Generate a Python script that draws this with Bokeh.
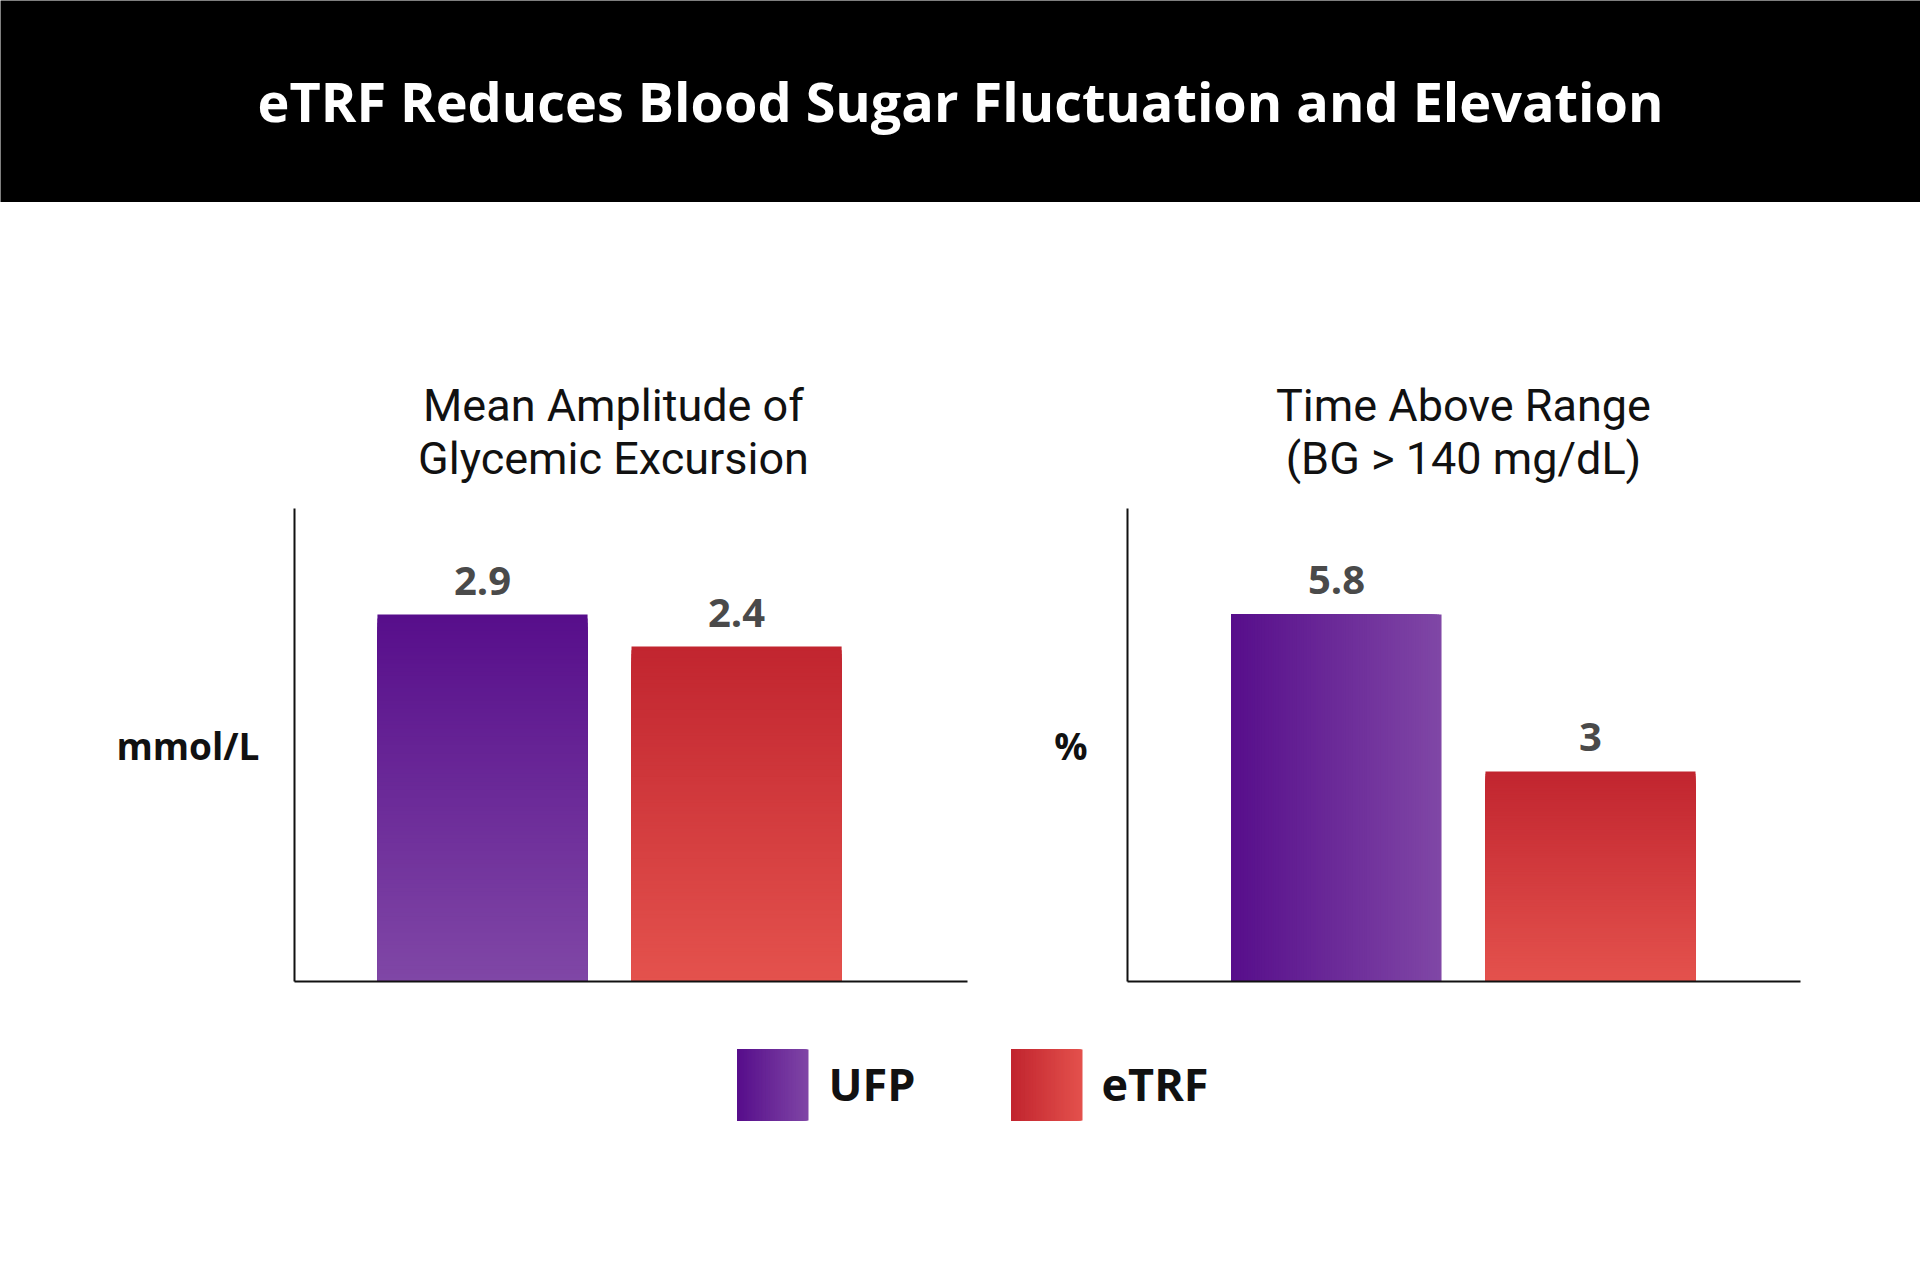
from bokeh.plotting import figure
from bokeh.models import Range1d, FixedTicker
from bokeh.layouts import column, row
from bokeh.embed import file_html
from bokeh.resources import INLINE
from bokeh.core.properties import value

# ---------------- data ----------------
groups = ["UFP", "eTRF"]
main_title = "eTRF Reduces Blood Sugar Fluctuation and Elevation"
mage_title = ["Mean Amplitude of", "Glycemic Excursion"]
tar_title = ["Time Above Range", "(BG > 140 mg/dL)"]
mage_unit = "mmol/L"
tar_unit = "%"
mage_values = [2.9, 2.4]
tar_values = [5.8, 3.0]
mage_labels = ["2.9", "2.4"]
tar_labels = ["5.8", "3"]

# ---------------- style ----------------
FONT = "Roboto"
BOLD_FONT = "Open Sans"
DARK = {"UFP": (0x57, 0x0E, 0x8B), "eTRF": (0xC1, 0x25, 0x2F)}
LIGHT = {"UFP": (0x80, 0x47, 0xA6), "eTRF": (0xE4, 0x52, 0x4D)}
N_SLICES = 90
BAR_W = 0.827


def mix(c1, c2, t):
    return "#%02x%02x%02x" % tuple(int(round(a + (b - a) * t)) for a, b in zip(c1, c2))


def gradient_quads(p, left, right, bottom, top, dark, light, direction):
    """Gradient fill made of nested rectangles (no seams).
    'v': dark at top -> light at bottom; 'h': dark at left -> light at right."""
    L, R, B, T, C = [], [], [], [], []
    for k in range(N_SLICES):
        f = k / N_SLICES
        tm = (k + 0.5) / N_SLICES
        if direction == "v":
            L.append(left); R.append(right); B.append(bottom)
            T.append(top - (top - bottom) * f)
            C.append(mix(dark, light, tm))
        else:
            L.append(left); B.append(bottom); T.append(top)
            R.append(right - (right - left) * f)
            C.append(mix(dark, light, 1 - tm))
    p.quad(left=L, right=R, bottom=B, top=T, fill_color=C, line_color=None)


def blank_fig(width, height, bg="white"):
    f = figure(width=width, height=height, output_backend="svg", toolbar_location=None,
               x_range=Range1d(0, width), y_range=Range1d(height, 0),
               x_axis_type=None, y_axis_type=None, min_border=0)
    f.background_fill_color = bg
    f.border_fill_color = bg
    f.outline_line_color = None
    f.grid.visible = False
    return f


def make_chart(values, labels, unit, y_rng, x_rng, directions,
               width, min_left, min_right, unit_standoff):
    p = figure(width=width, height=528, output_backend="svg", toolbar_location=None,
               x_range=Range1d(*x_rng), y_range=Range1d(*y_rng),
               min_border_left=min_left, min_border_right=min_right,
               min_border_top=16, min_border_bottom=39)
    p.outline_line_color = None
    p.grid.visible = False
    p.background_fill_color = "white"
    p.border_fill_color = "white"

    base = y_rng[0]
    for i, (g, v) in enumerate(zip(groups, values)):
        gradient_quads(p, i - BAR_W / 2, i + BAR_W / 2, base, v,
                       DARK[g], LIGHT[g], directions[i])

    p.text(x=list(range(len(values))), y=values, text=labels,
           text_align="center", text_baseline="alphabetic", y_offset=-34,
           text_font=value(BOLD_FONT), text_font_style="bold", text_font_size="40px",
           text_color="#4a4a4a")

    for ax in (p.xaxis, p.yaxis):
        ax.ticker = FixedTicker(ticks=[])
        ax.major_tick_line_color = None
        ax.minor_tick_line_color = None
        ax.axis_line_color = "#111111"
        ax.axis_line_width = 2
        ax.major_label_text_font_size = "0px"
    p.yaxis.axis_label = unit
    p.yaxis.axis_label_orientation = "horizontal"
    p.yaxis.axis_label_text_font = BOLD_FONT
    p.yaxis.axis_label_text_font_style = "bold"
    p.yaxis.axis_label_text_font_size = "37px"
    p.yaxis.axis_label_text_color = "#111111"
    p.yaxis.axis_label_standoff = unit_standoff
    return p


# ---------------- header ----------------
header = blank_fig(1920, 202, "black")
header.text(x=[960], y=[100], text=[main_title], text_align="center",
            text_baseline="alphabetic", text_font=value(BOLD_FONT), text_font_style="bold",
            text_font_size="54px", text_color="white")

# ---------------- chart titles ----------------
subs = blank_fig(1920, 290)
sub_x = [613, 1463]
for cx, lines in zip(sub_x, [mage_title, tar_title]):
    subs.text(x=[cx, cx], y=[203, 256], text=lines, text_align="center",
              text_baseline="alphabetic", text_font=value(FONT), text_font_size="45px",
              text_color="#111111")

# ---------------- charts ----------------
left = make_chart(mage_values, mage_labels, mage_unit,
                  (-2.834, 4.557), (-0.740, 1.909), ["v", "v"],
                  1047, 294, 80, 35)
right = make_chart(tar_values, tar_labels, tar_unit,
                   (-0.745, 7.69), (-0.823, 1.827), ["h", "v"],
                   873, 80, 120, 40)

# ---------------- legend ----------------
leg = blank_fig(1920, 260)
leg_x = [737, 1011]
text_x = [828, 1101]
for g, x0 in zip(groups, leg_x):
    gradient_quads(leg, x0, x0 + 71, 100, 29, DARK[g], LIGHT[g], "h")
leg.text(x=text_x, y=[63, 63], text=groups, text_align="left", text_baseline="alphabetic",
         text_font=value(BOLD_FONT), text_font_style="bold", text_font_size="45px",
         text_color="#111111")

layout = column(header, subs, row(left, right), leg)
open("out.html", "w").write(file_html(layout, INLINE))
